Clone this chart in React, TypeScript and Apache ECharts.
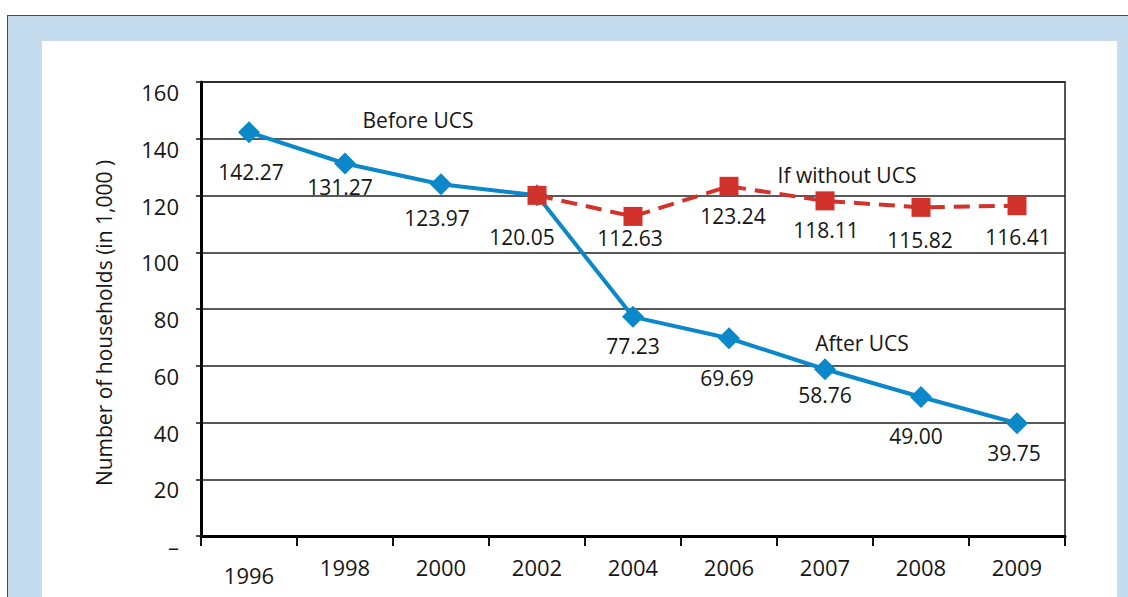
import React, { useEffect, useRef } from "react";
import * as echarts from "echarts";

const categories = ["1996", "1998", "2000", "2002", "2004", "2006", "2007", "2008", "2009"];
const actualValues = [142.27, 131.27, 123.97, 120.05, 77.23, 69.69, 58.76, 49.0, 39.75];
const withoutUcsValues = [null, null, null, 120.05, 112.63, 123.24, 118.11, 115.82, 116.41];
const yTicks = [0, 20, 40, 60, 80, 100, 120, 140, 160];

// label nudges relative to each marker (dx, dy)
const blueLabelShift = [[2, 40], [-5, 23], [-4, 34], [-15, 42], [0, 29], [-2, 40], [0, 26], [-5, 39], [-3, 30]];
const redLabelShift = [null, null, null, null, [-3, 22], [4, 30], [1, 29], [-1, 33], [1, 31]];

const FONT = "'Open Sans', 'Noto Sans', sans-serif";
const TXT = "#161616";
const BLUE = "#0b88c9";
const RED = "#d1322b";

export default function App() {
  const ref = useRef<HTMLDivElement>(null);
  useEffect(() => {
    if (!ref.current) return;
    const chart = echarts.init(ref.current, undefined, { renderer: "svg" });
    const fmt = (p: any) => Number(p.value).toFixed(2);
    const blueData = actualValues.map((v, i) => ({
      value: v,
      label: { show: true, position: "inside", offset: blueLabelShift[i] },
    }));
    const redData = withoutUcsValues.map((v, i) => {
      const s = redLabelShift[i];
      return s
        ? { value: v, label: { show: true, position: "inside", offset: s } }
        : { value: v, label: { show: false } };
    });
    chart.setOption({
      animation: false,
      backgroundColor: "transparent",
      textStyle: { fontFamily: FONT },
      grid: {
        left: 201,
        right: 63,
        top: 82,
        bottom: 61,
        show: true,
        borderColor: "#555",
        borderWidth: 2,
        backgroundColor: "transparent",
      },
      xAxis: {
        type: "category",
        data: categories,
        boundaryGap: true,
        axisLine: { lineStyle: { color: "#000", width: 3 } },
        axisTick: { show: true, interval: 0, length: 10, lineStyle: { color: "#111", width: 2 } },
        axisLabel: {
          interval: 0,
          margin: 20,
          color: TXT,
          fontSize: 22,
          fontFamily: FONT,
          formatter: (v: string, i: number) => (i === 0 ? `{low|${v}}` : v),
          rich: { low: { padding: [8, 0, 0, 0], fontSize: 22, fontFamily: FONT, color: TXT } },
        },
        splitLine: { show: false },
      },
      yAxis: {
        type: "value",
        min: yTicks[0],
        max: yTicks[yTicks.length - 1],
        interval: 20,
        axisLine: { show: true, lineStyle: { color: "#000", width: 3 } },
        axisTick: { show: true, length: 5, lineStyle: { color: "#111", width: 1.5 } },
        axisLabel: {
          margin: 22,
          color: TXT,
          fontSize: 22,
          fontFamily: FONT,
          formatter: (v: number) => `{t|${v === 0 ? "–" : String(v)}}`,
          rich: { t: { padding: [20, 0, 0, 0], fontSize: 22, fontFamily: FONT, color: TXT } },
        },
        splitLine: { show: true, lineStyle: { color: "#222", width: 1.5 } },
      },
      graphic: [
        {
          type: "text",
          x: 104,
          y: 323,
          rotation: Math.PI / 2,
          style: {
            text: "Number of households (in 1,000 )",
            fontSize: 21,
            fontFamily: FONT,
            fill: TXT,
            textAlign: "center",
            textVerticalAlign: "middle",
          },
        },
        {
          type: "text",
          x: 418,
          y: 120,
          style: { text: "Before UCS", fontSize: 21, fontFamily: FONT, fill: TXT, textAlign: "center", textVerticalAlign: "middle" },
          z: 10,
        },
        {
          type: "text",
          x: 847,
          y: 175,
          style: { text: "If without UCS", fontSize: 21, fontFamily: FONT, fill: TXT, textAlign: "center", textVerticalAlign: "middle" },
          z: 10,
        },
        {
          type: "text",
          x: 862,
          y: 343,
          style: { text: "After UCS", fontSize: 21, fontFamily: FONT, fill: TXT, textAlign: "center", textVerticalAlign: "middle" },
          z: 10,
        },
      ],
      series: [
        {
          name: "After UCS",
          type: "line",
          data: blueData,
          symbol: "diamond",
          symbolSize: [22, 22],
          lineStyle: { color: BLUE, width: 4 },
          itemStyle: { color: BLUE },
          label: { color: TXT, fontSize: 21, fontFamily: FONT, formatter: fmt },
          z: 2,
        },
        {
          name: "If without UCS",
          type: "line",
          data: redData,
          symbol: "rect",
          symbolSize: 19,
          connectNulls: false,
          lineStyle: { color: RED, width: 4, type: [16, 9] },
          itemStyle: { color: RED },
          label: { color: TXT, fontSize: 21, fontFamily: FONT, formatter: fmt },
          z: 3,
        },
      ],
    });
    return () => chart.dispose();
  }, []);

  return (
    <div style={{ position: "fixed", left: 0, top: 0, width: 1128, height: 597, background: "#fff", overflow: "hidden" }}>
      <div
        style={{
          position: "absolute",
          left: 7,
          top: 15,
          right: 0,
          bottom: 0,
          background: "#c5dcef",
          borderTop: "1.5px solid #4a4a4a",
          borderLeft: "1px solid #4a4a4a",
        }}
      />
      <div style={{ position: "absolute", left: 42, top: 41, width: 1075, height: 570, background: "#fff" }} />
      <div ref={ref} style={{ position: "absolute", left: 0, top: 0, width: 1128, height: 597 }} />
    </div>
  );
}
